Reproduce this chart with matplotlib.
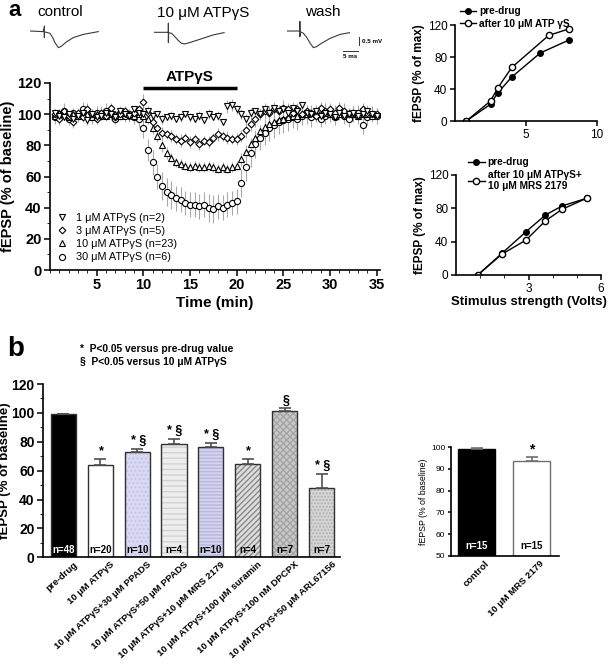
import numpy as np
import matplotlib
matplotlib.use('Agg')
import matplotlib.pyplot as plt
from matplotlib.ticker import MultipleLocator, FixedLocator
import matplotlib.transforms as mtransforms

plt.rcParams['font.family'] = ['Liberation Sans', 'DejaVu Sans']
plt.rcParams['axes.linewidth'] = 1.2
plt.rcParams['xtick.major.width'] = 1.1
plt.rcParams['ytick.major.width'] = 1.1

W, H = 609, 667

# ---------- данные: записи fEPSP (мс, мВ) ----------
ctrl_t = [0, 4.5, 4.9, 4.9, 4.9, 5.7, 6.8, 7.7, 8.5, 9.7, 10.8, 12.5, 14.8, 18.2, 23.3]
ctrl_v = [0, -0.04, 0.33, -0.41, -0.06, -0.09, -0.15, -0.41, -0.76, -1.09, -0.98, -0.70, -0.43, -0.22, -0.04]
atp_t = [0, 4.9, 4.9, 4.9, 5.0, 6.0, 7.1, 8.3, 9.4, 10.5, 12.2, 15.6, 20.2, 23.9]
atp_v = [0, 0, 0.59, -0.67, -0.02, -0.07, -0.28, -0.54, -0.72, -0.76, -0.67, -0.46, -0.17, -0.02]
wash_t = [0, 4.5, 4.5, 4.5, 4.7, 5.7, 6.8, 8.0, 9.1, 10.2, 11.9, 14.8, 18.2, 21.4]
wash_v = [0, 0, 0.61, -0.37, -0.05, -0.15, -0.41, -0.80, -1.09, -1.02, -0.80, -0.48, -0.22, -0.11]

# ---------- временной ход (каждые 0.5 мин) ----------
time_min = np.arange(1, 71) * 0.5
v1 = [101, 99, 98, 100, 97, 99, 101, 96, 100, 98, 99, 101, 100, 98, 102, 100, 99, 103, 101,
      100, 102, 99, 100, 97, 98, 99, 97, 98, 100, 98, 97, 99, 96, 100, 98, 99, 95, 105, 106,
      103, 100, 97, 101, 102, 100, 103, 101, 104, 102, 103, 101, 104, 102, 106, 101, 100, 102,
      99, 101, 100, 98, 101, 99, 100, 101, 99, 100, 102, 100, 99]
v3 = [100, 97, 102, 99, 95, 101, 98, 103, 100, 97, 101, 99, 104, 98, 100, 102, 99, 101, 103,
      108, 101, 95, 91, 88, 87, 86, 84, 83, 85, 82, 84, 81, 83, 82, 85, 87, 86, 85, 84,
      84, 86, 90, 94, 97, 100, 102, 101, 103, 102, 104, 103, 101, 103, 100, 102, 101, 99,
      104, 102, 103, 101, 104, 102, 100, 101, 99, 103, 101, 100, 100]
v10 = [99, 101, 100, 98, 100, 99, 101, 100, 98, 100, 101, 99, 100, 100, 99, 101, 100, 99, 100,
       99, 97, 91, 86, 80, 75, 72, 69, 68, 67, 66, 67, 66, 66, 67, 66, 65, 66, 65, 66,
       67, 71, 76, 81, 85, 89, 92, 94, 95, 96, 97, 98, 99, 99, 100, 100, 101, 100,
       100, 101, 100, 99, 100, 100, 101, 100, 99, 100, 100, 99, 100]
v30 = [98, 100, 102, 97, 101, 99, 103, 100, 98, 101, 99, 102, 100, 97, 101, 99, 100, 98, 97,
       91, 77, 69, 60, 54, 50, 48, 46, 45, 43, 42, 42, 41, 42, 40, 39, 41, 40, 42, 43,
       44, 56, 66, 75, 81, 85, 88, 91, 93, 95, 96, 97, 98, 97, 99, 100, 98, 101,
       97, 99, 100, 98, 101, 99, 97, 100, 101, 93, 98, 100, 99]
e1 = [2, 3, 2, 2, 3, 2, 2, 3, 2, 2, 3, 2, 2, 3, 2, 2, 3, 2, 2,
      3, 2, 3, 2, 3, 2, 3, 2, 3, 2, 3, 2, 3, 2, 3, 2, 3, 2, 4, 4,
      3, 3, 3, 3, 2, 3, 2, 3, 2, 3, 2, 3, 4, 3, 2, 3, 2, 3,
      2, 3, 2, 3, 2, 3, 2, 3, 2, 3, 2, 3, 2]
e3 = [3, 4, 3, 3, 4, 3, 3, 4, 3, 3, 4, 3, 3, 4, 3, 3, 4, 3, 3,
      5, 4, 4, 3, 4, 3, 4, 3, 4, 3, 4, 3, 4, 3, 4, 3, 4, 3, 4, 3,
      4, 4, 5, 5, 5, 4, 5, 4, 5, 4, 5, 4, 5, 4, 5, 4, 5, 4,
      4, 5, 4, 5, 4, 5, 4, 4, 5, 4, 5, 4, 4]
e10 = [2, 2, 3, 2, 2, 3, 2, 2, 3, 2, 2, 3, 2, 2, 3, 2, 2, 3, 2,
       3, 3, 4, 4, 4, 4, 3, 3, 3, 3, 3, 3, 3, 3, 3, 3, 3, 3, 3, 3,
       3, 4, 4, 4, 4, 4, 4, 4, 4, 4, 3, 3, 3, 3, 3, 3, 3, 3,
       3, 3, 3, 3, 3, 3, 3, 3, 3, 3, 3, 3, 3]
e30 = [4, 3, 5, 4, 3, 4, 5, 3, 4, 4, 3, 5, 4, 3, 4, 4, 3, 4, 5,
       6, 7, 8, 8, 9, 9, 9, 8, 8, 8, 8, 8, 8, 8, 9, 9, 8, 8, 8, 8,
       8, 9, 9, 9, 9, 8, 8, 8, 8, 8, 8, 8, 7, 7, 6, 6, 6, 5,
       5, 5, 5, 5, 5, 5, 5, 5, 5, 6, 5, 5, 5]
series_labels = ['1 μM ATPγS (n=2)', '3 μM ATPγS (n=5)', '10 μM ATPγS (n=23)', '30 μM ATPγS (n=6)']

# ---------- кривые вход-выход ----------
io1_x_pre = [0.8, 2.5, 3.0, 4.0, 6.0, 8.0]
io1_y_pre = [0, 21, 35, 55, 85, 101]
io1_x_atp = [0.8, 2.5, 3.0, 4.0, 6.6, 8.0]
io1_y_atp = [0, 25, 41, 67, 107, 115]
io2_x = [0.9, 1.9, 2.9, 3.7, 4.4, 5.4]
io2_y_pre = [0, 26, 52, 72, 83, 92]
io2_y_mrs = [0, 25, 42, 65, 79, 92]

# ---------- столбцы (b) ----------
bar_labels = ['pre-drug', '10 μM ATPγS', '10 μM ATPγS+30 μM PPADS', '10 μM ATPγS+50 μM PPADS',
              '10 μM ATPγS+10 μM MRS 2179', '10 μM ATPγS+100 μM suramin',
              '10 μM ATPγS+100 nM DPCPX', '10 μM ATPγS+50 μM ARL67156']
bar_values = [99.0, 64.1, 72.9, 78.2, 76.4, 64.4, 101.1, 48.0]
bar_err = [0.4, 3.7, 2.3, 3.9, 3.0, 3.9, 2.1, 9.9]
bar_n = [48, 20, 10, 4, 10, 4, 7, 7]
bar_sig = ['', '*', '* §', '* §', '* §', '*', '§', '* §']

small_labels = ['control', '10 μM MRS 2179']
small_values = [99.2, 93.7]
small_err = [0.2, 1.6]
small_n = [15, 15]

fig = plt.figure(figsize=(W / 100, H / 100), dpi=100)


def ax_px(l, t, r, b):
    return fig.add_axes([l / W, 1 - b / H, (r - l) / W, (b - t) / H])


def ftext(x, y, s, **kw):
    fig.text(x / W, 1 - y / H, s, **kw)


def clean(ax):
    ax.spines['top'].set_visible(False)
    ax.spines['right'].set_visible(False)


# ---------- записи ----------
trace_boxes = [(30, 20.3, 103.3, 50.9), (154, 21.6, 227.3, 52.2), (286.7, 20.3, 360, 50.9)]
traces = [(ctrl_t, ctrl_v), (atp_t, atp_v), (wash_t, wash_v)]
for box, (tt, vv) in zip(trace_boxes, traces):
    tax = ax_px(*box)
    tax.plot(tt, vv, color='#3a3a3a', lw=0.8)
    tax.set_xlim(0, 25)
    tax.set_ylim(-1.3, 0.7)
    tax.axis('off')
# масштабные отрезки
tax.plot([24.8, 24.8], [-0.41, -0.91], color='#333333', lw=0.7, clip_on=False)
tax.plot([19.3, 24.3], [-1.31, -1.31], color='#333333', lw=0.7, clip_on=False)
tax.text(25.8, -0.66, '0.5 mV', fontsize=4.5, fontweight='bold', ha='left', va='center')
tax.text(21.8, -1.5, '5 ms', fontsize=4.5, fontweight='bold', ha='center', va='top')

ftext(8, 11, 'a', fontsize=16, fontweight='bold', va='center')
ftext(60, 12, 'control', fontsize=11, ha='center', va='center')
ftext(203, 13, '10 μM ATPγS', fontsize=11, ha='center', va='center')
ftext(323, 12, 'wash', fontsize=11, ha='center', va='center')

# ---------- временной ход ----------
ax = ax_px(50, 83, 379.5, 270)
clean(ax)
all_v = [v1, v3, v10, v30]
all_e = [e1, e3, e10, e30]
for vv, ee in zip(all_v[::-1], all_e[::-1]):
    ax.errorbar(time_min, vv, yerr=ee, fmt='none', ecolor='#a9a9a9', elinewidth=0.8)
markers = ['v', 'D', '^', 'o']
msizes = [4.2, 3.4, 4.2, 4.4]
handles = []
for vv, m, ms, lab in list(zip(all_v, markers, msizes, series_labels))[::-1]:
    h, = ax.plot(time_min, vv, m, ms=ms, mfc='white', mec='black', mew=0.8, ls='none', label=lab)
    handles.append(h)
ax.legend(handles[::-1], series_labels, loc='lower left', bbox_to_anchor=(0.0, 0.0), frameon=False,
          fontsize=7.8, handlelength=0.8, handletextpad=0.9, labelspacing=0.3, borderaxespad=0.3)
ax.plot([10, 20], [117, 117], color='black', lw=2.5, clip_on=False, solid_capstyle='butt')
ax.text(15, 121.2, 'ATPγS', fontsize=11, fontweight='bold', ha='center', va='baseline')
ax.set_xlim(0, 35.3)
ax.set_ylim(0, 120)
ax.xaxis.set_major_locator(FixedLocator([5, 10, 15, 20, 25, 30, 35]))
ax.xaxis.set_minor_locator(MultipleLocator(1))
ax.yaxis.set_major_locator(MultipleLocator(20))
ax.yaxis.set_minor_locator(MultipleLocator(10))
ax.tick_params(which='major', length=4, labelsize=10.5, pad=2)
ax.tick_params(which='minor', length=2.5)
for lab in ax.get_xticklabels() + ax.get_yticklabels():
    lab.set_fontweight('bold')
ax.set_xlabel('Time (min)', fontsize=11, fontweight='bold', labelpad=3)
ax.set_ylabel('fEPSP (% of baseline)', fontsize=10.5, fontweight='bold')
ax.yaxis.set_label_coords((15 - 50) / 329.5, 0.5)

# ---------- вход-выход 1 ----------
ax1 = ax_px(455, 25, 597, 121)
clean(ax1)
ax1.plot(io1_x_pre, io1_y_pre, '-o', color='black', ms=4, mfc='black', lw=1.0, label='pre-drug')
ax1.plot(io1_x_atp, io1_y_atp, '-o', color='black', ms=4.5, mfc='white', lw=1.0,
         label='after 10 μM ATP γS')
ax1.set_xlim(0, 10)
ax1.set_ylim(0, 120)
ax1.xaxis.set_major_locator(FixedLocator([5, 10]))
ax1.yaxis.set_major_locator(MultipleLocator(40))
ax1.tick_params(length=3.5, labelsize=8.5, pad=2)
ax1.set_ylabel('fEPSP (% of max)', fontsize=8.5, fontweight='bold', labelpad=2)
ax1.legend(loc='upper left', bbox_to_anchor=(0.0, 1.25), frameon=False, borderpad=0,
           handlelength=1.6, handletextpad=0.3, labelspacing=0.25,
           prop={'weight': 'bold', 'size': 7.3})

# ---------- вход-выход 2 ----------
ax2 = ax_px(456, 175, 601, 275)
clean(ax2)
ax2.plot(io2_x, io2_y_pre, '-o', color='black', ms=4, mfc='black', lw=1.0, label='pre-drug')
ax2.plot(io2_x, io2_y_mrs, '-o', color='black', ms=4.5, mfc='white', lw=1.0,
         label='after 10 μM ATPγS+\n10 μM MRS 2179')
ax2.set_xlim(0, 6)
ax2.set_ylim(0, 120)
ax2.xaxis.set_major_locator(FixedLocator([3, 6]))
ax2.xaxis.set_minor_locator(FixedLocator([1, 2, 4, 5]))
ax2.yaxis.set_major_locator(MultipleLocator(40))
ax2.tick_params(which='major', length=3.5, labelsize=8.5, pad=2)
ax2.tick_params(which='minor', length=2)
ax2.set_ylabel('fEPSP (% of max)', fontsize=8.5, fontweight='bold', labelpad=2)
ax2.set_xlabel('Stimulus strength (Volts)', fontsize=9.5, fontweight='bold', labelpad=1)
ax2.legend(loc='upper left', bbox_to_anchor=(0.05, 1.23), frameon=False, borderpad=0,
           handlelength=1.6, handletextpad=0.3, labelspacing=0.25,
           prop={'weight': 'bold', 'size': 7.3})

# ---------- столбцы (b) ----------
ftext(7, 349, 'b', fontsize=20, fontweight='bold', va='center')
ftext(80, 349, '*  P<0.05 versus pre-drug value', fontsize=7.4, fontweight='bold', va='center')
ftext(80, 362, '§  P<0.05 versus 10 μM ATPγS', fontsize=7.4, fontweight='bold', va='center')

axb = ax_px(43, 384, 340, 557.3)
clean(axb)
faces = ['black', 'white', '#d9d9f3', '#ededed', '#d3d3ef', '#dedede', '#c9c9c9', '#d6d6d6']
hatches = [None, None, '....', '---', '-----', '//////', 'xxxxx', '.....']
hcolors = ['black', 'white', '#c4c4e6', '#d2d2d2', '#b8b8de', '#8a8a8a', '#a5a5a5', '#b0b0b0']
xpos = np.arange(len(bar_values))
for x, val, fc, hc, hcol in zip(xpos, bar_values, faces, hatches, hcolors):
    axb.bar(x, val, width=0.68, color=fc, hatch=hc, edgecolor=hcol, linewidth=0)
    axb.bar(x, val, width=0.68, color='none', edgecolor='#303030', linewidth=1.0)
axb.errorbar(xpos, bar_values, yerr=[np.zeros(len(bar_err)), bar_err], fmt='none',
             ecolor='#505050', elinewidth=1.2, capsize=4, capthick=1.2)
for x, val, err, n, sig in zip(xpos, bar_values, bar_err, bar_n, bar_sig):
    axb.text(x, 1.5, 'n=%d' % n, fontsize=7, fontweight='bold', ha='center', va='bottom',
             color='white' if x == 0 else 'black')
    if sig:
        axb.text(x + 0.03, val + err + 1.2, sig, fontsize=9, fontweight='bold', ha='center',
                 va='bottom')
axb.set_xlim(-0.55, 7.5)
axb.set_ylim(0, 120)
axb.yaxis.set_major_locator(MultipleLocator(20))
axb.yaxis.set_minor_locator(MultipleLocator(10))
axb.tick_params(axis='y', which='major', length=4, labelsize=10, pad=2)
axb.tick_params(axis='y', which='minor', length=2.5)
axb.set_xticks(xpos)
axb.tick_params(axis='x', length=0, pad=2)
for lab in axb.get_yticklabels():
    lab.set_fontweight('bold')
shift = mtransforms.ScaledTranslation(10 / 100, 0, fig.dpi_scale_trans)
axb.set_xticklabels(bar_labels, rotation=42, ha='right', rotation_mode='anchor',
                    fontsize=6.8, fontweight='bold')
for lab in axb.get_xticklabels():
    lab.set_transform(lab.get_transform() + shift)
axb.set_ylabel('fEPSP (% of baseline)', fontsize=9.5, fontweight='bold')
axb.yaxis.set_label_coords((11.5 - 43) / 297, 0.5)

# ---------- малая диаграмма ----------
axs = ax_px(450.7, 447, 559, 556)
clean(axs)
axs.bar([0, 1], small_values, width=0.67, color=['black', 'white'], edgecolor=['black', '#707070'],
        linewidth=1.0)
axs.errorbar([0, 1], small_values, yerr=[[0, 0], small_err], fmt='none', ecolor='#707070',
             elinewidth=1.2, capsize=4, capthick=1.2)
for x, n in zip([0, 1], small_n):
    axs.text(x, 52.5, 'n=%d' % n, fontsize=7, fontweight='bold', ha='center', va='bottom',
             color='white' if x == 0 else 'black')
axs.text(1, small_values[1] + small_err[1] + 0.4, '*', fontsize=10, fontweight='bold',
         ha='center', va='bottom')
axs.set_xlim(-0.47, 1.5)
axs.set_ylim(50, 100)
axs.yaxis.set_major_locator(MultipleLocator(10))
axs.tick_params(axis='y', length=2.5, labelsize=6, pad=1.5)
axs.set_xticks([0, 1])
axs.tick_params(axis='x', length=0, pad=2)
axs.set_xticklabels(small_labels, rotation=45, ha='right', rotation_mode='anchor',
                    fontsize=6.8, fontweight='bold')
shift2 = mtransforms.ScaledTranslation(8 / 100, 0, fig.dpi_scale_trans)
for lab in axs.get_xticklabels():
    lab.set_transform(lab.get_transform() + shift2)
axs.set_ylabel('fEPSP (% of baseline)', fontsize=6.3, labelpad=2)

fig.savefig('out.png', dpi=100)
